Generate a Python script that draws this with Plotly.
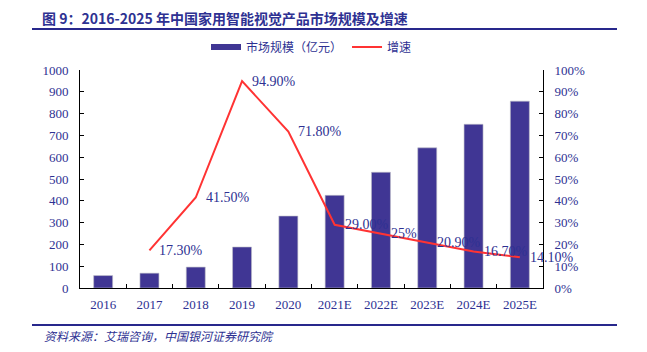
import plotly.graph_objects as go

categories = ["2016", "2017", "2018", "2019", "2020", "2021E", "2022E", "2023E", "2024E", "2025E"]
market_size = [57, 68, 96, 188, 330, 425, 531, 643, 751, 857]
growth_cats = ["2017", "2018", "2019", "2020", "2021E", "2022E", "2023E", "2024E", "2025E"]
growth = [0.173, 0.415, 0.949, 0.718, 0.290, 0.25, 0.209, 0.167, 0.141]
growth_labels = ["17.30%", "41.50%", "94.90%", "71.80%", "29.00%", "25%", "20.90%", "16.70%", "14.10%"]
left_ticks = list(range(0, 1001, 100))
right_ticks = [i / 10 for i in range(11)]

NAVY = "rgb(46,49,146)"
BAR = "rgb(64,54,148)"
RED = "rgb(255,51,51)"
SERIF = "Liberation Serif, Times New Roman, serif"
CJK = "Noto Sans CJK SC, sans-serif"

fig = go.Figure()
fig.add_trace(go.Bar(x=categories, y=market_size, marker=dict(color=BAR, line=dict(color="rgb(190,190,200)", width=0.6)),
                     showlegend=False, yaxis="y"))
# legend proxy for bar (wide rectangle)
fig.add_trace(go.Scatter(x=[categories[0]], y=[None], mode="lines", name="市场规模（亿元）",
                         line=dict(color=BAR, width=6), yaxis="y", hoverinfo="skip"))
fig.add_trace(go.Scatter(x=growth_cats, y=growth, mode="lines", name="增速",
                         line=dict(color=RED, width=2), yaxis="y2"))

annotations = []
for c, v, t in zip(growth_cats, growth, growth_labels):
    annotations.append(dict(x=categories.index(c), y=v, xref="x", yref="y2", text=t, showarrow=False,
                            xanchor="left", yanchor="middle", xshift=8,
                            font=dict(family=SERIF, size=14, color=NAVY)))

PL, PR, PT, PB = 80, 543, 70, 288
W, H = 647, 352
pw, ph = PR - PL, PB - PT
def px(xp): return (xp - PL) / pw
def py(yp): return (PB - yp) / ph

annotations.append(dict(x=px(42), y=py(335), xref="paper", yref="paper",
                        text="<i>资料来源：艾瑞咨询，中国银河证券研究院</i>", showarrow=False,
                        xanchor="left", yanchor="middle",
                        font=dict(family=CJK, size=12, color=NAVY)))

shapes = [
    dict(type="line", xref="paper", yref="paper", x0=px(32), x1=px(617), y0=py(29), y1=py(29),
         line=dict(color="rgb(40,40,140)", width=2)),
    dict(type="line", xref="paper", yref="paper", x0=px(32), x1=px(617), y0=py(325), y1=py(325),
         line=dict(color="rgb(40,40,140)", width=2)),
]

fig.update_layout(
    width=W, height=H,
    margin=dict(l=PL, r=W - PR, t=PT, b=H - PB, pad=0),
    paper_bgcolor="white", plot_bgcolor="white",
    title=dict(text="<b>图 9：2016-2025 年中国家用智能视觉产品市场规模及增速</b>",
               x=42 / W, xanchor="left", y=1 - 19 / H, yanchor="middle",
               font=dict(family=CJK, size=14, color=NAVY)),
    bargap=0.59,
    legend=dict(orientation="h", x=0.5, xanchor="center", y=py(47), yanchor="middle",
                font=dict(family=CJK, size=12, color=NAVY),
                bgcolor="rgba(0,0,0,0)"),
    xaxis=dict(type="category", categoryorder="array", categoryarray=categories,
               range=[-0.5, len(categories) - 0.5],
               showline=True, linecolor="black", linewidth=1, mirror=False,
               ticks="inside", tickson="boundaries", ticklen=4, tickcolor="black",
               tickfont=dict(family=SERIF, size=13, color=NAVY), ticklabelstandoff=4,
               showgrid=False, zeroline=False),
    yaxis=dict(range=[0, 1000], tickvals=left_ticks, showline=True, linecolor="black", linewidth=1,
               ticks="inside", ticklen=4, tickcolor="black", showgrid=False, zeroline=False,
               tickfont=dict(family=SERIF, size=13, color=NAVY), ticklabelstandoff=8),
    yaxis2=dict(range=[0, 1], tickvals=right_ticks, tickformat=".0%", overlaying="y", side="right",
                showline=True, linecolor="black", linewidth=1, ticks="inside", ticklen=4,
                tickcolor="black", showgrid=False, zeroline=False,
                tickfont=dict(family=SERIF, size=13, color=NAVY), ticklabelstandoff=8),
    annotations=annotations, shapes=shapes,
)

fig.write_html("out.html")
